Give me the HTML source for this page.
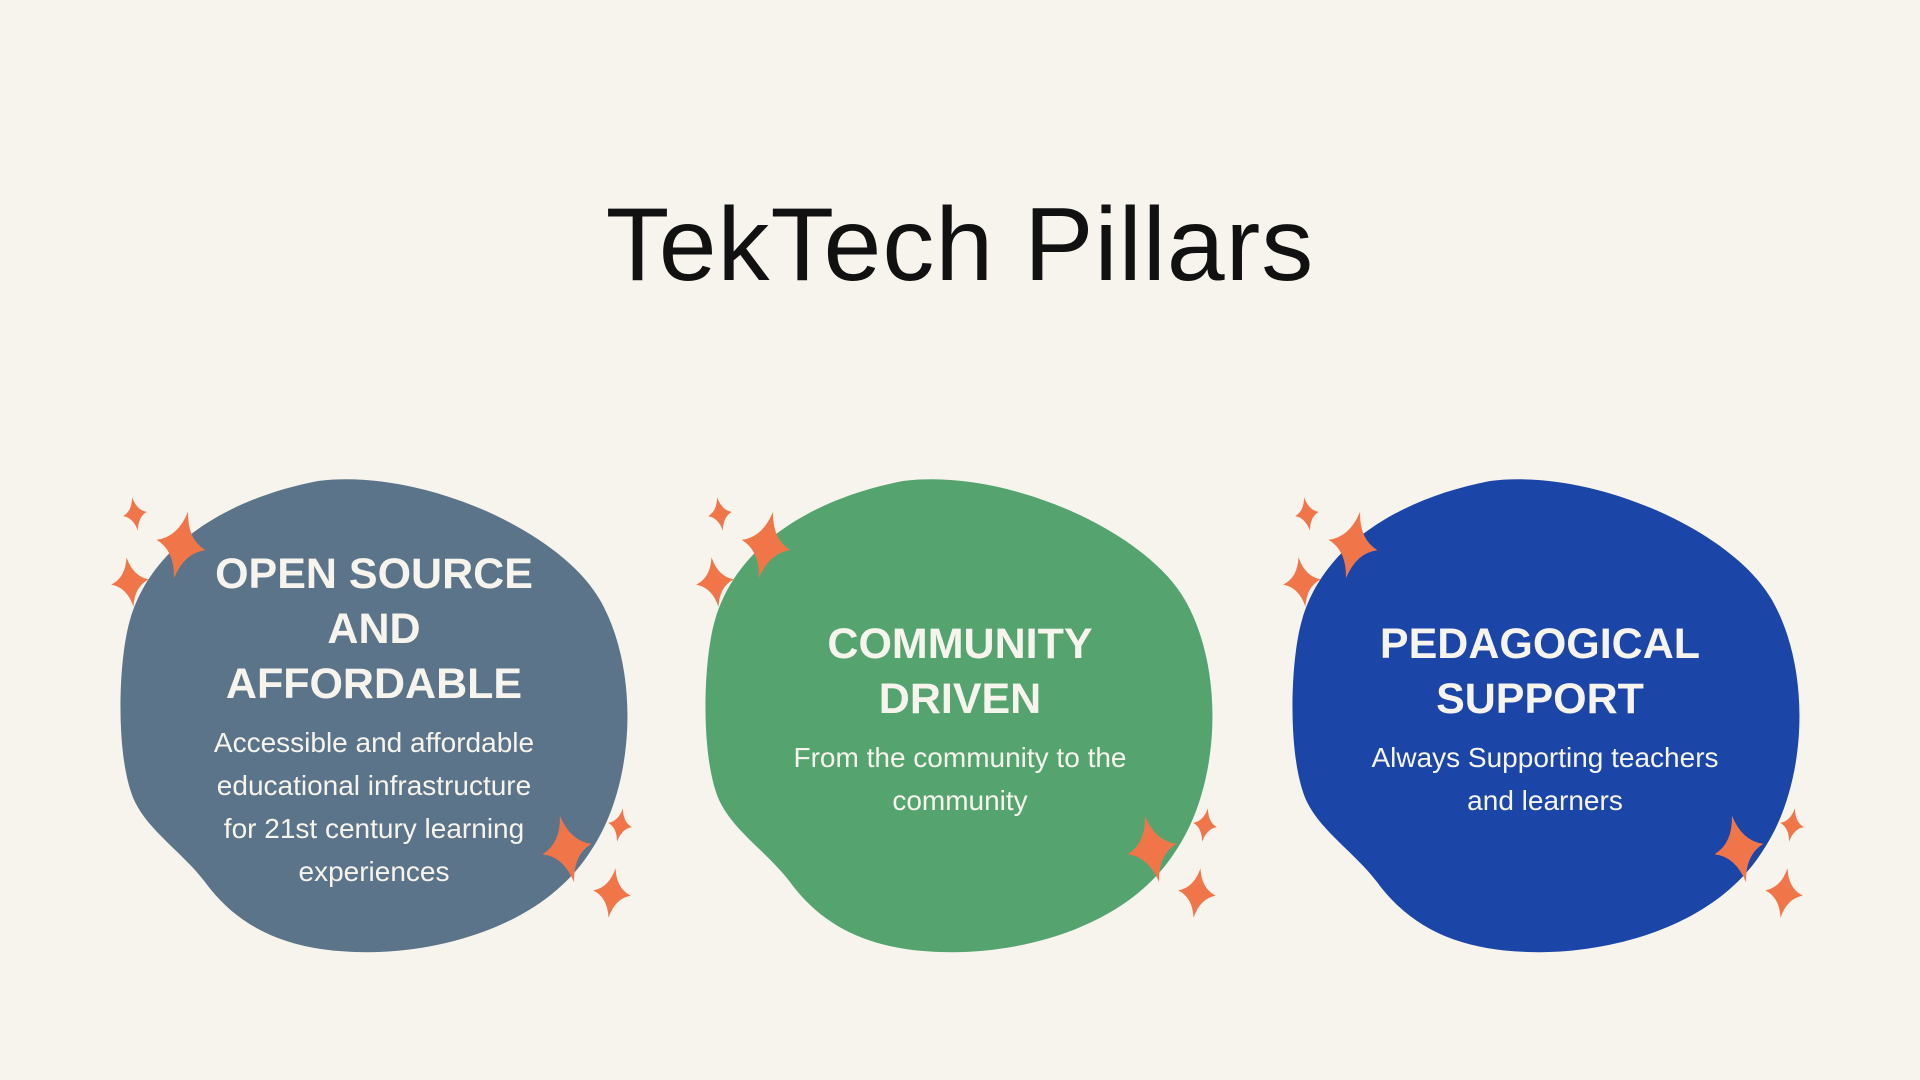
<!DOCTYPE html>
<html><head><meta charset="utf-8"><style>
html,body{margin:0;padding:0;background:#f7f4ee;}
svg{display:block}
</style></head><body>
<svg width="1920" height="1080" viewBox="0 0 1920 1080" xmlns="http://www.w3.org/2000/svg">
<rect width="1920" height="1080" fill="#f7f4ee"/>
<defs>
<path id="blob" d="M318,481 C420,468 560,530 600,600 C640,670 636,785 590,852 C540,930 430,955 355,952 C290,950 240,930 205,882 C182,852 150,832 135,802 C115,760 118,660 130,620 C150,550 220,500 318,481 Z"/>
<path id="st" d="M0,-1 Q0.2,-0.2 1,0 Q0.2,0.2 0,1 Q-0.2,0.2 -1,0 Q-0.2,-0.2 0,-1Z" fill="#f0764a"/>
<g id="sparks">
<use href="#st" transform="translate(135,514) rotate(-10) scale(12,17)"/>
<use href="#st" transform="translate(181,545) rotate(12) scale(25,34)"/>
<use href="#st" transform="translate(130,582) rotate(-8) scale(19,25)"/>
<use href="#st" transform="translate(567,849) rotate(-12) scale(25,34)"/>
<use href="#st" transform="translate(620,825) rotate(10) scale(12,17)"/>
<use href="#st" transform="translate(612,893) rotate(8) scale(19,25)"/>
</g>
</defs>
<text x="960" y="280" text-anchor="middle" font-family="Liberation Sans, sans-serif" font-size="104" fill="#111" letter-spacing="1">TekTech Pillars</text>

<use href="#blob" fill="#5b7489"/>
<use href="#blob" fill="#55a46f" transform="translate(585,0)"/>
<use href="#blob" fill="#1b46a8" transform="translate(1172,0)"/>
<use href="#sparks"/>
<use href="#sparks" transform="translate(585,0)"/>
<use href="#sparks" transform="translate(1172,0)"/>

<g font-family="Liberation Sans, sans-serif" font-weight="bold" font-size="43" fill="#f7f4ee" text-anchor="middle">
<text x="374" y="588">OPEN SOURCE</text>
<text x="374" y="643">AND</text>
<text x="374" y="698">AFFORDABLE</text>
<text x="960" y="658">COMMUNITY</text>
<text x="960" y="713">DRIVEN</text>
<text x="1540" y="658">PEDAGOGICAL</text>
<text x="1540" y="713">SUPPORT</text>
</g>
<g font-family="Liberation Sans, sans-serif" font-size="28" fill="#f7f4ee" text-anchor="middle">
<text x="374" y="752">Accessible and affordable</text>
<text x="374" y="795">educational infrastructure</text>
<text x="374" y="838">for 21st century learning</text>
<text x="374" y="881">experiences</text>
<text x="960" y="767">From the community to the</text>
<text x="960" y="810">community</text>
<text x="1545" y="767">Always Supporting teachers</text>
<text x="1545" y="810">and learners</text>
</g>
</svg>
</body></html>
